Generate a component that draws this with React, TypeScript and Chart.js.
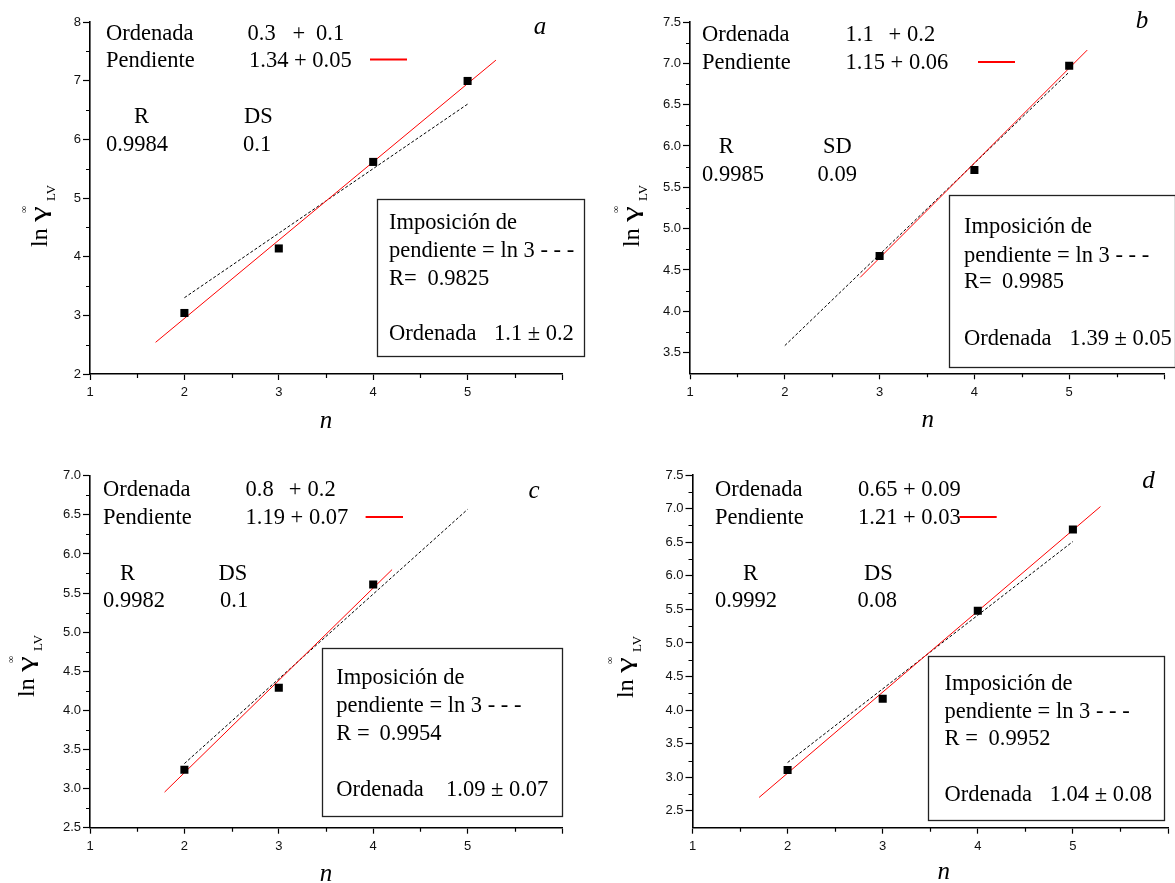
import React, { useEffect, useRef } from 'react';
import { Chart, registerables } from 'chart.js';

Chart.register(...registerables);

const SERIF = '"Liberation Serif", "Times New Roman", serif';
const SANS = '"Liberation Sans", Arial, sans-serif';

// ---------- data ----------
const xTicks = [1, 2, 3, 4, 5, 6];
const xMinor = [1.5, 2.5, 3.5, 4.5, 5.5];

// panel a
const nA = [2, 3, 4, 5];
const lnGammaA = [3.04, 4.14, 5.615, 6.995];
const fitNA = [1.695, 5.3];
const fitLnGammaA = [2.54, 7.35];
const slopeNA = [2, 5];
const slopeLnGammaA = [3.3, 6.6];
const yTicksA = [2, 3, 4, 5, 6, 7, 8];
const yMinorA = [2.5, 3.5, 4.5, 5.5, 6.5, 7.5];

// panel b
const nB = [3, 4, 5];
const lnGammaB = [4.67, 5.71, 6.97];
const fitNB = [2.795, 5.19];
const fitLnGammaB = [4.41, 7.16];
const slopeNB = [2, 5];
const slopeLnGammaB = [3.585, 6.895];
const yTicksB = [3.5, 4.0, 4.5, 5.0, 5.5, 6.0, 6.5, 7.0, 7.5];
const yMinorB = [3.75, 4.25, 4.75, 5.25, 5.75, 6.25, 6.75, 7.25];

// panel c
const nC = [2, 3, 4];
const lnGammaC = [3.24, 4.29, 5.61];
const fitNC = [1.79, 4.2];
const fitLnGammaC = [2.955, 5.8];
const slopeNC = [2, 5];
const slopeLnGammaC = [3.32, 6.57];
const yTicksC = [2.5, 3.0, 3.5, 4.0, 4.5, 5.0, 5.5, 6.0, 6.5, 7.0];
const yMinorC = [2.75, 3.25, 3.75, 4.25, 4.75, 5.25, 5.75, 6.25, 6.75];

// panel d
const nD = [2, 3, 4, 5];
const lnGammaD = [3.11, 4.17, 5.48, 6.69];
const fitND = [1.7, 5.29];
const fitLnGammaD = [2.7, 7.03];
const slopeND = [2, 5];
const slopeLnGammaD = [3.22, 6.51];
const yTicksD = [2.5, 3.0, 3.5, 4.0, 4.5, 5.0, 5.5, 6.0, 6.5, 7.0, 7.5];
const yMinorD = [2.75, 3.25, 3.75, 4.25, 4.75, 5.25, 5.75, 6.25, 6.75, 7.25];

// texts
const ordenadaA = ['0.3', '+', '0.1'];
const ordenadaB = ['1.1', '+', '0.2'];
const ordenadaC = ['0.8', '+', '0.2'];
const ordenadaD = ['0.65 + 0.09'];
const pendienteA = '1.34 + 0.05';
const pendienteB = '1.15 + 0.06';
const pendienteC = '1.19 + 0.07';
const pendienteD = '1.21 + 0.03';
const statsA = ['R', 'DS', '0.9984', '0.1'];
const statsB = ['R', 'SD', '0.9985', '0.09'];
const statsC = ['R', 'DS', '0.9982', '0.1'];
const statsD = ['R', 'DS', '0.9992', '0.08'];
const boxA = ['R=', '0.9825', '1.1 \u00b1 0.2'];
const boxB = ['R=', '0.9985', '1.39 \u00b1 0.05'];
const boxC = ['R =', '0.9954', '1.09 \u00b1 0.07'];
const boxD = ['R =', '0.9952', '1.04 \u00b1 0.08'];

// ---------- layout (pixel positions inside each panel canvas) ----------
type Panel = any;

const panels: Panel[] = [
  {
    letter: 'a', left: 0, top: 0, W: 590, H: 440,
    area: { left: 90, right: 562, top: 22, bottom: 374 },
    yMin: 2, yMax: 8, yTicks: yTicksA, yMinor: yMinorA, yDec: 0,
    n: nA, y: lnGammaA, fitN: fitNA, fitY: fitLnGammaA, slN: slopeNA, slY: slopeLnGammaA,
    ord: ordenadaA, pend: pendienteA, stats: statsA, box: boxA,
    pos: {
      ord: [106, 32.3], ordVals: [247.5, 292.5, 316], pend: [106, 60], pendVal: 249,
      legend: [370, 407, 59.5], R: [134, 116], SD: [244, 116], Rv: [106, 144], SDv: [243, 144],
      letter: [540, 28], box: [377, 199, 584, 356], boxX: 389, boxLines: [222, 250, 278, 333],
      boxRnum: 427.4, boxOrdNum: 494, nTitle: [326, 422], yTitle: [47, 247],
    },
  },
  {
    letter: 'b', left: 590, top: 0, W: 585, H: 440,
    area: { left: 100, right: 574, top: 22, bottom: 373.3 },
    yMin: 3.25, yMax: 7.5, yTicks: yTicksB, yMinor: yMinorB, yDec: 1,
    n: nB, y: lnGammaB, fitN: fitNB, fitY: fitLnGammaB, slN: slopeNB, slY: slopeLnGammaB,
    ord: ordenadaB, pend: pendienteB, stats: statsB, box: boxB,
    pos: {
      ord: [112, 34], ordVals: [255.6, 298.5, 317], pend: [112, 62], pendVal: 255.6,
      legend: [388, 425, 62], R: [128.7, 146], SD: [233, 146], Rv: [112, 174], SDv: [227.6, 174],
      letter: [552, 22], box: [359, 195, 584.5, 366.7], boxX: 374, boxLines: [226, 255, 281, 337.7],
      boxRnum: 412, boxOrdNum: 479.5, nTitle: [337.7, 421.7], yTitle: [48.5, 247],
    },
  },
  {
    letter: 'c', left: 0, top: 440, W: 590, H: 443,
    area: { left: 90, right: 562, top: 35.7, bottom: 387.7 },
    yMin: 2.5, yMax: 7.0, yTicks: yTicksC, yMinor: yMinorC, yDec: 1,
    n: nC, y: lnGammaC, fitN: fitNC, fitY: fitLnGammaC, slN: slopeNC, slY: slopeLnGammaC,
    ord: ordenadaC, pend: pendienteC, stats: statsC, box: boxC,
    pos: {
      ord: [103, 48.3], ordVals: [245.6, 288.7, 307.5], pend: [103, 76.7], pendVal: 245.6,
      legend: [365.6, 403, 77], R: [120, 132.3], SD: [218.6, 132.3], Rv: [103, 160], SDv: [220, 160],
      letter: [534, 52.3], box: [321.7, 208.3, 561.3, 376], boxX: 336.3, boxLines: [236.7, 265, 292.3, 348.3],
      boxRnum: 379.5, boxOrdNum: 446, nTitle: [326, 435], yTitle: [33.7, 257],
    },
  },
  {
    letter: 'd', left: 590, top: 440, W: 585, H: 443,
    area: { left: 102.5, right: 578, top: 35, bottom: 387.7 },
    yMin: 2.25, yMax: 7.5, yTicks: yTicksD, yMinor: yMinorD, yDec: 1,
    n: nD, y: lnGammaD, fitN: fitND, fitY: fitLnGammaD, slN: slopeND, slY: slopeLnGammaD,
    ord: ordenadaD, pend: pendienteD, stats: statsD, box: boxD,
    pos: {
      ord: [125, 48.3], ordVals: [268], pend: [125, 76.7], pendVal: 268,
      legend: [369.4, 406.7, 77], R: [153, 132.3], SD: [274, 132.3], Rv: [125, 160], SDv: [267.5, 160],
      letter: [558.6, 42.7], box: [338.4, 216, 574.6, 380], boxX: 354.5, boxLines: [242.3, 270.7, 297.7, 354],
      boxRnum: 398.5, boxOrdNum: 459.7, nTitle: [353.7, 433.3], yTitle: [43, 258],
    },
  },
];

const FS = 22.5;

function txt(ctx: CanvasRenderingContext2D, s: string, x: number, cy: number, size = FS, italic = false, align: CanvasTextAlign = 'left', k = 0.33) {
  ctx.font = `${italic ? 'italic ' : ''}${size}px ${SERIF}`;
  ctx.textAlign = align;
  ctx.textBaseline = 'alphabetic';
  ctx.fillStyle = '#000';
  ctx.fillText(s, x, cy + size * k);
}

function drawYTitle(ctx: CanvasRenderingContext2D, bx: number, by: number) {
  ctx.save();
  ctx.translate(bx, by);
  ctx.rotate(-Math.PI / 2);
  ctx.fillStyle = '#000';
  ctx.textAlign = 'left';
  ctx.textBaseline = 'alphabetic';
  ctx.font = `24px ${SERIF}`;
  ctx.fillText('ln', 0, 0);
  ctx.save();
  ctx.translate(25, 0);
  ctx.scale(1.5, 1);
  ctx.font = `24px ${SERIF}`;
  ctx.fillText('\u03b3', 0, -1);
  ctx.restore();
  ctx.font = `10px ${SERIF}`;
  ctx.fillText('\u221e', 34, -20);
  ctx.font = `13px ${SERIF}`;
  ctx.fillText('LV', 46, 8);
  ctx.restore();
}

const annotPlugin = {
  id: 'annot',
  afterDraw(chart: any) {
    const p: Panel = chart.options.plugins.annot.panel;
    const ctx: CanvasRenderingContext2D = chart.ctx;
    const { x, y } = chart.scales;
    const ca = chart.chartArea;
    const q = p.pos;
    ctx.save();
    // minor ticks
    ctx.strokeStyle = '#000';
    ctx.lineWidth = 1.2;
    ctx.beginPath();
    for (const v of xMinor) {
      const px = Math.round(x.getPixelForValue(v)) + 0.5;
      ctx.moveTo(px, ca.bottom);
      ctx.lineTo(px, ca.bottom + 4);
    }
    for (const v of p.yMinor) {
      const py = Math.round(y.getPixelForValue(v)) + 0.5;
      ctx.moveTo(ca.left, py);
      ctx.lineTo(ca.left - 4, py);
    }
    ctx.stroke();

    // header texts
    txt(ctx, 'Ordenada', q.ord[0], q.ord[1]);
    p.ord.forEach((s: string, i: number) => txt(ctx, s, q.ordVals[i], q.ord[1]));
    txt(ctx, 'Pendiente', q.pend[0], q.pend[1]);
    txt(ctx, p.pend, q.pendVal, q.pend[1]);
    ctx.strokeStyle = '#ff0000';
    ctx.lineWidth = 2;
    ctx.beginPath();
    ctx.moveTo(q.legend[0], q.legend[2]);
    ctx.lineTo(q.legend[1], q.legend[2]);
    ctx.stroke();
    txt(ctx, p.stats[0], q.R[0], q.R[1]);
    txt(ctx, p.stats[1], q.SD[0], q.SD[1]);
    txt(ctx, p.stats[2], q.Rv[0], q.Rv[1]);
    txt(ctx, p.stats[3], q.SDv[0], q.SDv[1]);
    txt(ctx, p.letter, q.letter[0], q.letter[1], 25, true, 'center', 0.22);

    // box
    const [bx0, by0, bx1, by1] = q.box;
    ctx.fillStyle = '#fff';
    ctx.fillRect(bx0, by0, bx1 - bx0, by1 - by0);
    ctx.strokeStyle = '#222';
    ctx.lineWidth = 1.3;
    ctx.strokeRect(Math.round(bx0) + 0.5, Math.round(by0) + 0.5, Math.round(bx1 - bx0), Math.round(by1 - by0));
    txt(ctx, 'Imposici\u00f3n de', q.boxX, q.boxLines[0]);
    txt(ctx, 'pendiente = ln 3 - - -', q.boxX, q.boxLines[1]);
    txt(ctx, p.box[0], q.boxX, q.boxLines[2]);
    txt(ctx, p.box[1], q.boxRnum, q.boxLines[2]);
    txt(ctx, 'Ordenada', q.boxX, q.boxLines[3]);
    txt(ctx, p.box[2], q.boxOrdNum, q.boxLines[3]);

    // axis titles
    txt(ctx, 'n', q.nTitle[0], q.nTitle[1], 25, true, 'center', 0.22);
    drawYTitle(ctx, q.yTitle[0], q.yTitle[1]);
    ctx.restore();
  },
};

function makeChart(canvas: HTMLCanvasElement, p: Panel) {
  const pts = (xs: number[], ys: number[]) => xs.map((v, i) => ({ x: v, y: ys[i] }));
  return new Chart(canvas, {
    type: 'scatter',
    data: {
      datasets: [
        {
          label: 'data',
          data: pts(p.n, p.y),
          pointStyle: 'rect',
          pointRadius: 5.7,
          pointHoverRadius: 5.7,
          backgroundColor: '#000',
          borderColor: '#000',
          borderWidth: 0,
          showLine: false,
          order: 0,
        },
        {
          label: 'fit',
          data: pts(p.fitN, p.fitY),
          showLine: true,
          borderColor: '#ff0000',
          borderWidth: 1,
          pointRadius: 0,
          order: 1,
        },
        {
          label: 'slope ln 3',
          data: pts(p.slN, p.slY),
          showLine: true,
          borderColor: '#000',
          borderWidth: 1,
          borderDash: [3, 2],
          pointRadius: 0,
          order: 2,
        },
      ] as any,
    },
    options: {
      animation: false,
      responsive: false,
      maintainAspectRatio: false,
      events: [],
      layout: { padding: { left: 0, top: p.area.top, right: p.W - p.area.right, bottom: 0 } },
      plugins: {
        legend: { display: false },
        tooltip: { enabled: false },
        annot: { panel: p },
      } as any,
      scales: {
        x: {
          type: 'linear',
          min: 1,
          max: 6,
          afterBuildTicks: (s: any) => { s.ticks = xTicks.map((v) => ({ value: v })); },
          afterFit: (s: any) => { s.height = p.H - p.area.bottom; },
          grid: { display: true, drawOnChartArea: false, drawTicks: true, tickLength: 6, tickColor: '#000', tickWidth: 1.2 },
          border: { display: true, color: '#000', width: 1.6 },
          ticks: {
            font: { family: SANS, size: 13 },
            color: '#111',
            padding: 5,
            maxRotation: 0,
            autoSkip: false,
            callback: (v: any) => (v === 6 ? '' : String(v)),
          },
        },
        y: {
          type: 'linear',
          min: p.yMin,
          max: p.yMax,
          afterBuildTicks: (s: any) => { s.ticks = p.yTicks.map((v: number) => ({ value: v })); },
          afterFit: (s: any) => { s.width = p.area.left; },
          grid: { display: true, drawOnChartArea: false, drawTicks: true, tickLength: 7, tickColor: '#000', tickWidth: 1.2 },
          border: { display: true, color: '#000', width: 1.6 },
          ticks: {
            font: { family: SANS, size: 13 },
            color: '#111',
            padding: 2,
            autoSkip: false,
            callback: (v: any) => Number(v).toFixed(p.yDec),
          },
        },
      },
    } as any,
    plugins: [annotPlugin],
  });
}

function PanelChart({ p }: { p: Panel }) {
  const ref = useRef<HTMLCanvasElement | null>(null);
  useEffect(() => {
    if (!ref.current) return;
    const chart = makeChart(ref.current, p);
    return () => chart.destroy();
  }, [p]);
  return (
    <canvas
      ref={ref}
      width={p.W}
      height={p.H}
      style={{ position: 'absolute', left: p.left, top: p.top, width: p.W, height: p.H }}
    />
  );
}

export default function App() {
  return (
    <div style={{ position: 'absolute', left: 0, top: 0, width: 1175, height: 883, background: '#fff', overflow: 'hidden' }}>
      {panels.map((p) => (
        <PanelChart key={p.letter} p={p} />
      ))}
    </div>
  );
}
